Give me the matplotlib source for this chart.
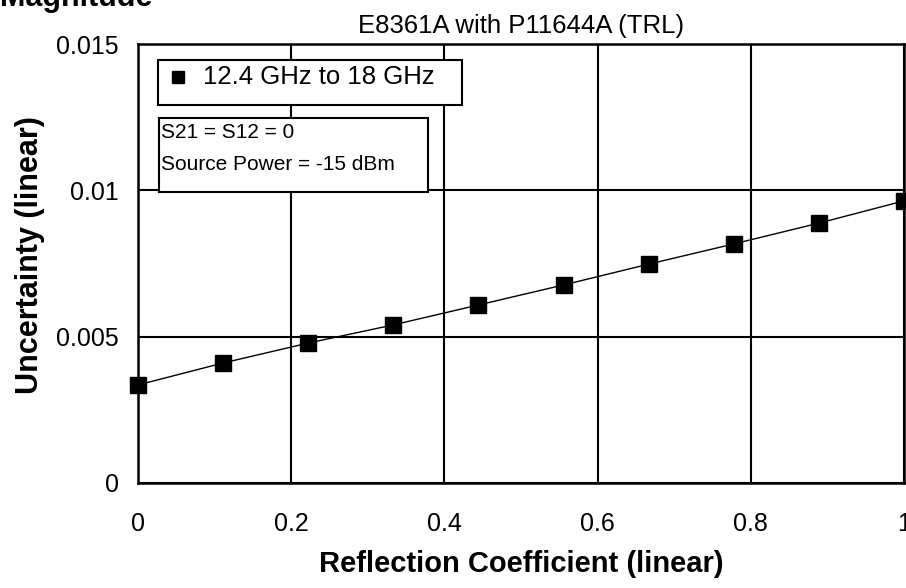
import matplotlib
matplotlib.use("Agg")
import matplotlib.pyplot as plt
from matplotlib.patches import Rectangle

plt.rcParams["font.family"] = ["Liberation Sans", "DejaVu Sans"]

# reflection coefficient (linear) and measurement uncertainty (linear)
refl = [0.0, 0.111, 0.222, 0.333, 0.444, 0.556, 0.667, 0.778, 0.889, 1.0]
uncert = [0.00335, 0.00410, 0.00478, 0.00540, 0.00608, 0.00677,
          0.00748, 0.00817, 0.00888, 0.00964]
series_label = "12.4 GHz to 18 GHz"
xticks = [0, 0.2, 0.4, 0.6, 0.8, 1]
xtick_labels = ["0", "0.2", "0.4", "0.6", "0.8", "1"]
yticks = [0, 0.005, 0.01, 0.015]
ytick_labels = ["0", "0.005", "0.01", "0.015"]

W, H = 766, 439   # axes size in pixels, used for placing the boxes

fig = plt.figure(figsize=(9.06, 5.88), dpi=100)
ax = fig.add_axes([138 / 906, 1 - 483 / 588, W / 906, H / 588])

ax.plot(refl, uncert, color="black", lw=1.0, marker="s", markersize=12,
        markerfacecolor="black", markeredgecolor="black", label=series_label,
        clip_on=False, zorder=5)

ax.set_xlim(0, 1)
ax.set_ylim(0, 0.015)
ax.set_xticks(xticks)
ax.set_xticklabels(xtick_labels)
ax.set_yticks(yticks)
ax.set_yticklabels(ytick_labels)
ax.tick_params(length=0, labelsize=18, pad=21)
ax.tick_params(axis="y", pad=14)
ax.grid(True, color="black", lw=1.5)
ax.set_axisbelow(True)
for s in ax.spines.values():
    s.set_linewidth(1.8)
    s.set_color("black")

ax.set_xlabel("Reflection Coefficient (linear)", fontsize=21, fontweight="bold")
ax.xaxis.set_label_coords(0.5006, -0.153)
ax.set_ylabel("Uncertainty (linear)", fontsize=22, fontweight="bold")
ax.yaxis.set_label_coords(-0.122, 0.52)
ax.set_title("E8361A with P11644A (TRL)", fontsize=18.5, pad=8)
fig.text(0.0, 1.003, "Magnitude", fontsize=22, fontweight="bold",
         ha="left", va="center")

# legend box
ax.add_patch(Rectangle((20 / W, 1 - 61 / H), 304 / W, 45 / H,
                       transform=ax.transAxes, fc="white", ec="black", lw=1.5,
                       zorder=6))
ax.plot([40 / W], [1 - 33 / H], transform=ax.transAxes, marker="s",
        markersize=9, color="black", ls="none", zorder=7)
ax.text(65 / W, 1 - 33 / H, series_label, transform=ax.transAxes,
        fontsize=18.5, ha="left", va="center", zorder=7)

# condition box
ax.add_patch(Rectangle((21 / W, 1 - 148 / H), 269 / W, 74 / H,
                       transform=ax.transAxes, fc="white", ec="black", lw=1.5,
                       zorder=6))
ax.text(23 / W, 1 - 89 / H, "S21 = S12 = 0", transform=ax.transAxes,
        fontsize=15, ha="left", va="center", zorder=7)
ax.text(23 / W, 1 - 120 / H, "Source Power = -15 dBm", transform=ax.transAxes,
        fontsize=15, ha="left", va="center", zorder=7)

fig.savefig("out.png", dpi=100, facecolor="white")
